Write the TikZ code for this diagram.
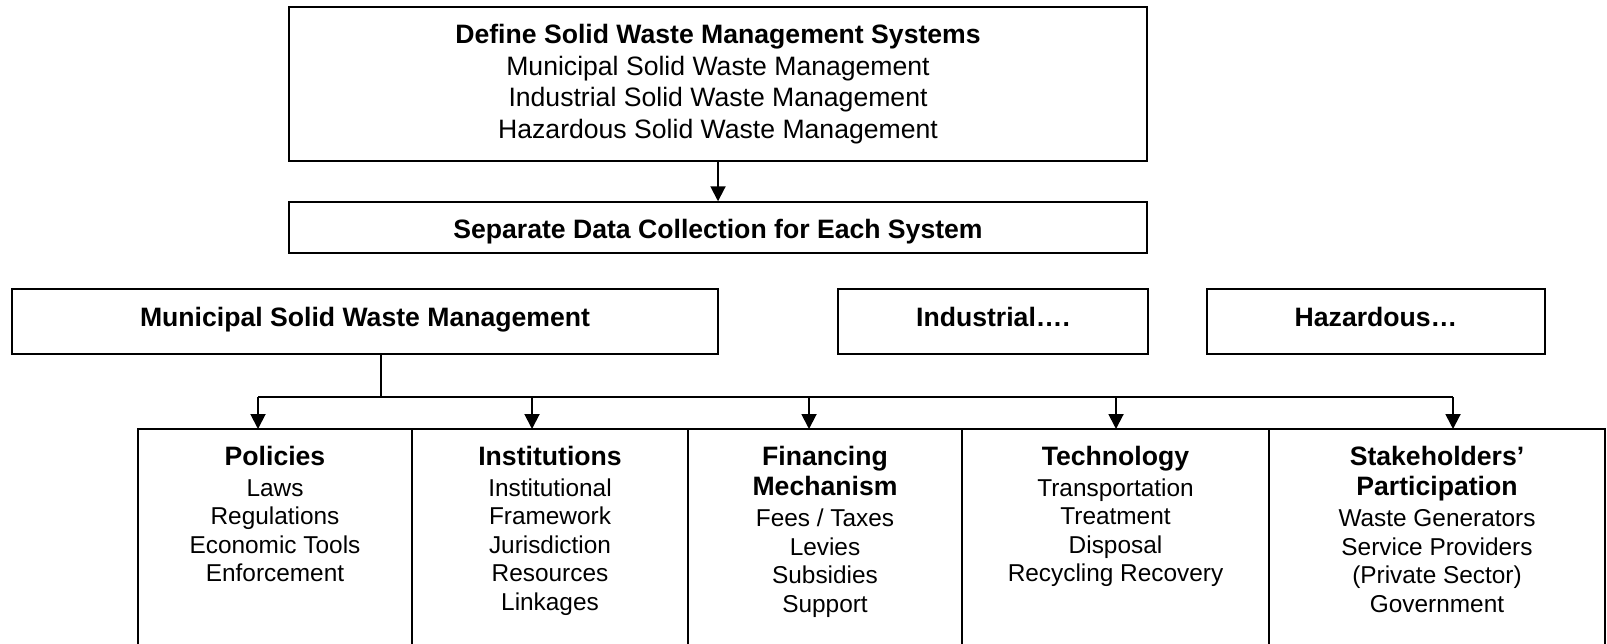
\documentclass[tikz,border=0pt]{standalone}
\usepackage{fontspec}
\setmainfont{Liberation Sans}
\usetikzlibrary{arrows.meta,positioning}

\newcommand\ttlsize{\fontsize{15.14}{17.4}\selectfont}
\newcommand\topsize{\fontsize{15.14}{18.05}\selectfont}
\newcommand\itmsize{\fontsize{13.88}{16.2}\selectfont}
\newcommand\cellbox[3]{\parbox[t][5.42cm][t]{#1}{\centering\vspace{0.34cm}\ttlsize\textbf{#2}\par\vspace{1.5pt}\itmsize #3\par}}

\begin{document}
\begin{tikzpicture}[
    block/.style={rectangle, draw, line width=1.1pt, align=center, inner sep=0pt, font=\ttlsize},
    head/.style={block, font=\ttlsize\bfseries, minimum height=1.3cm, text height=0.45cm, text depth=0.25cm},
    cell/.style={rectangle, draw, line width=1.1pt, inner sep=0pt, outer sep=0pt, anchor=north west},
    arrow/.style={->,>={Triangle[length=0.3cm,width=0.3cm]},line width=1.1pt}]

\useasboundingbox (0,0) rectangle (32.14,-12.88);
\clip (0,0) rectangle (32.14,-12.88);

% Blocks
\node[block, font=\topsize, minimum width=17.16cm, minimum height=3.08cm] (def) at (14.36,-1.68)
    {\textbf{Define Solid Waste Management Systems}\\Municipal Solid Waste Management\\Industrial Solid Waste Management\\Hazardous Solid Waste Management};
\node[block, font=\ttlsize\bfseries, minimum width=17.16cm, minimum height=1.02cm, text height=0.5cm, text depth=0.08cm] (sep) at (14.36,-4.555)
    {Separate Data Collection for Each System};
\node[head, minimum width=14.12cm] (msw) at (7.30,-6.43) {Municipal Solid Waste Management};
\node[head, minimum width=6.20cm] (ind) at (19.86,-6.43) {Industrial….};
\node[head, minimum width=6.76cm] (haz) at (27.52,-6.43) {Hazardous…};

\node[cell] (pol) at (2.76,-8.58)
    {\cellbox{5.48cm}{Policies}{Laws\\Regulations\\Economic Tools\\Enforcement}};
\node[cell, right=0pt of pol] (ins)
    {\cellbox{5.52cm}{Institutions}{Institutional\\Framework\\Jurisdiction\\Resources\\Linkages}};
\node[cell, right=0pt of ins] (fin)
    {\cellbox{5.48cm}{Financing\\Mechanism}{Fees / Taxes\\Levies\\Subsidies\\Support}};
\node[cell, right=0pt of fin] (tec)
    {\cellbox{6.14cm}{Technology}{Transportation\\Treatment\\Disposal\\Recycling Recovery}};
\node[cell, right=0pt of tec] (sta)
    {\cellbox{6.72cm}{Stakeholders’\\Participation}{Waste Generators\\Service Providers\\(Private Sector)\\Government}};

% Bus
\coordinate (bus) at (7.62,-7.94);
\coordinate (tpol) at (5.16,-7.94);
\coordinate (tins) at (10.64,-7.94);
\coordinate (tfin) at (16.18,-7.94);
\coordinate (ttec) at (22.32,-7.94);
\coordinate (tsta) at (29.06,-7.94);

% Connections
\draw[arrow] (def) -- (sep);
\draw[line width=1.1pt] (bus |- msw.south) -- (bus);
\draw[line width=1.1pt] (tpol) -- (tsta);
\draw[arrow] (tpol) -- (tpol |- pol.north);
\draw[arrow] (tins) -- (tins |- ins.north);
\draw[arrow] (tfin) -- (tfin |- fin.north);
\draw[arrow] (ttec) -- (ttec |- tec.north);
\draw[arrow] (tsta) -- (tsta |- sta.north);
\end{tikzpicture}
\end{document}
